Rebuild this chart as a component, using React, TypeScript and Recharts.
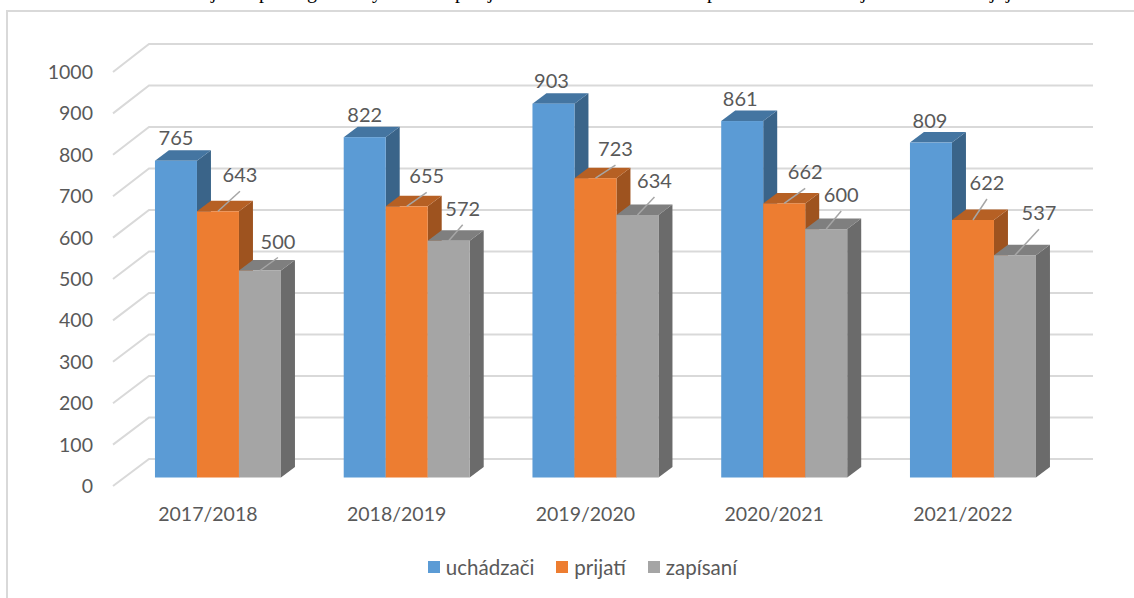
import { BarChart, Bar, XAxis, YAxis, Legend, LabelList, CartesianGrid } from "recharts";

const years = ["2017/2018", "2018/2019", "2019/2020", "2020/2021", "2021/2022"];
const applicants = [765, 822, 903, 861, 809];
const admitted = [643, 655, 723, 662, 622];
const enrolled = [500, 572, 634, 600, 537];
const yTicks = [0, 100, 200, 300, 400, 500, 600, 700, 800, 900, 1000];

const chartData = years.map((year, i) => ({
  year,
  applicants: applicants[i],
  admitted: admitted[i],
  enrolled: enrolled[i],
}));

// hand placed data labels, [dx, dy] from the centre of the bar's top edge
const applicantOffsets = [[0, -24], [0, -23], [-2, -24], [-2, -23], [-1, -23]];
const admittedOffsets = [[22, -37], [20, -31], [20, -30], [21, -32], [14, -38]];
const enrolledOffsets = [[18, -30], [14, -33], [17, -35], [15, -35], [24, -43]];

// what's left of the text line above the chart, cut off by the crop
const clippedChars = "jpgypjpjjj";
const clippedX = "211 259 307 372 455 488 707 861 990 1006";

const FONT = "Lato, sans-serif";
const TEXT = "#595959";
const GRID = "#d9d9d9";
const DEPTH_X = 14;
const DEPTH_Y = 10.5;
const PLOT_BOTTOM = 477.5;
const PLOT_HEIGHT = 414;

function makeBar3D(front: string, top: string, side: string) {
  return function Bar3D(props: any) {
    const { x, y, width, height } = props;
    const r = x + width;
    const b = y + height;
    return (
      <g>
        <polygon points={`${r},${y} ${r + DEPTH_X},${y - DEPTH_Y} ${r + DEPTH_X},${b - DEPTH_Y} ${r},${b}`} fill={side} />
        <polygon points={`${x},${y} ${x + DEPTH_X},${y - DEPTH_Y} ${r + DEPTH_X},${y - DEPTH_Y} ${r},${y}`} fill={top} />
        <rect x={x} y={y} width={width} height={height} fill={front} />
      </g>
    );
  };
}

// oblique floor/wall line: front edge by the tick label, then along the back wall
function WallLine({ y1 }: any) {
  const back = y1 - 18.5 - (PLOT_BOTTOM - y1) / PLOT_HEIGHT;
  return (
    <polyline
      points={`113,${y1 + 8.5} 149,${back} 1093,${back}`}
      fill="none"
      stroke={GRID}
      strokeWidth={2}
    />
  );
}

function YTick({ y, payload }: any) {
  return (
    <text x={93} y={y + 8} textAnchor="end" dominantBaseline="central" fontFamily={FONT} fontSize={19.5} fill={TEXT}>
      {payload.value}
    </text>
  );
}

function XTick({ x, y, payload }: any) {
  return (
    <text x={x - 10} y={y + 36} textAnchor="middle" dominantBaseline="central" fontFamily={FONT} fontSize={19.5} fill={TEXT}>
      {payload.value}
    </text>
  );
}

function makeLabel(offsets: number[][], leader: boolean) {
  return function BarLabel(props: any) {
    const { x, y, width, value, index } = props;
    const cx = x + width / 2;
    const lx = cx + offsets[index][0];
    const ly = y + offsets[index][1];
    return (
      <g>
        {leader && <line x1={cx} y1={y} x2={lx} y2={ly + 17} stroke="#a6a6a6" strokeWidth={1.5} />}
        <text x={lx} y={ly} textAnchor="middle" dominantBaseline="central" fontFamily={FONT} fontSize={20} fill={TEXT}>
          {value}
        </text>
      </g>
    );
  };
}

function LegendRow({ payload }: any) {
  return (
    <div style={{ display: "flex", justifyContent: "center", gap: 22, fontFamily: FONT, fontSize: 20.5, color: TEXT, lineHeight: "24px", paddingLeft: 31 }}>
      {(payload || []).map((item: any) => (
        <span key={item.value} style={{ display: "flex", alignItems: "center", gap: 6 }}>
          <span style={{ width: 12, height: 12, background: item.color, display: "inline-block" }} />
          {item.value}
        </span>
      ))}
    </div>
  );
}

export default function App() {
  return (
    <div style={{ position: "absolute", left: 0, top: 0, width: 1134, height: 598, overflow: "hidden", background: "#fff" }}>
      <div style={{ position: "absolute", left: 6, top: 10, right: 0, bottom: 0, borderLeft: `2px solid ${GRID}`, borderTop: `2px solid ${GRID}` }} />
      <svg width={1134} height={12} style={{ position: "absolute", left: 0, top: 0 }}>
        <text x={clippedX} y={-2} fontFamily="Liberation Serif" fontSize={20} fill="#000">
          {clippedChars}
        </text>
      </svg>
      <div style={{ position: "absolute", left: 0, top: 0 }}>
        <BarChart
          width={1134}
          height={598}
          data={chartData}
          barGap={0}
          barCategoryGap="16.67%"
          margin={{ left: 23.5, right: 66.75, top: PLOT_BOTTOM - PLOT_HEIGHT, bottom: 60.5 }}
        >
          <CartesianGrid vertical={false} horizontal={(props: any) => <WallLine key={props.key} {...props} />} />
          <XAxis dataKey="year" height={60} axisLine={false} tickLine={false} tickSize={0} tickMargin={0} tick={<XTick />} interval={0} />
          <YAxis width={100} domain={[0, 1000]} ticks={yTicks} axisLine={false} tickLine={false} tick={<YTick />} interval={0} />
          <Legend
            layout="horizontal"
            verticalAlign="middle"
            align="center"
            width={1134}
            itemSorter={null}
            wrapperStyle={{ left: 0, top: 555 }}
            content={<LegendRow />}
          />
          <Bar dataKey="applicants" name="uchádzači" fill="#5b9bd5" isAnimationActive={false} shape={makeBar3D("#5b9bd5", "#4475a1", "#3a6489")}>
            <LabelList dataKey="applicants" content={makeLabel(applicantOffsets, false)} />
          </Bar>
          <Bar dataKey="admitted" name="prijatí" fill="#ed7d31" isAnimationActive={false} shape={makeBar3D("#ed7d31", "#b66024", "#9e531f")}>
            <LabelList dataKey="admitted" content={makeLabel(admittedOffsets, true)} />
          </Bar>
          <Bar dataKey="enrolled" name="zapísaní" fill="#a5a5a5" isAnimationActive={false} shape={makeBar3D("#a5a5a5", "#7f7f7f", "#6b6b6b")}>
            <LabelList dataKey="enrolled" content={makeLabel(enrolledOffsets, true)} />
          </Bar>
        </BarChart>
      </div>
    </div>
  );
}
